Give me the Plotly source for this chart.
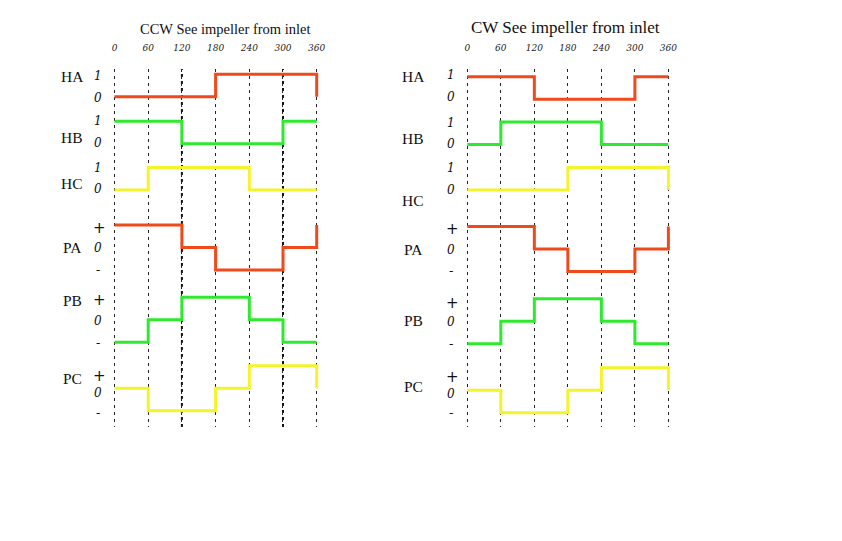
import plotly.graph_objects as go

# ---------------- data ----------------
ANGLES = [0, 60, 120, 180, 240, 300, 360]
TICK_TEXT = ["0", "60", "120", "180", "240", "300", "360"]
SIGNALS = ["HA", "HB", "HC", "PA", "PB", "PC"]

# level per 60-degree sector (0..60, 60..120, ..., 300..360)
CCW_HA = [0, 0, 0, 1, 1, 1]
CCW_HB = [1, 1, 0, 0, 0, 1]
CCW_HC = [0, 1, 1, 1, 0, 0]
CCW_PA = [1, 1, 0, -1, -1, 0]
CCW_PB = [-1, 0, 1, 1, 0, -1]
CCW_PC = [0, -1, -1, 0, 1, 1]

CW_HA = [1, 1, 0, 0, 0, 1]
CW_HB = [0, 1, 1, 1, 0, 0]
CW_HC = [0, 0, 0, 1, 1, 1]
CW_PA = [1, 1, 0, -1, -1, 0]
CW_PB = [-1, 0, 1, 1, 0, -1]
CW_PC = [0, -1, -1, 0, 1, 1]

HALL_LEVEL_TEXT = ["1", "0"]
PHASE_LEVEL_TEXT = ["+", "0", "-"]

TITLE_CCW = "CCW See impeller from inlet"
TITLE_CW = "CW See impeller from inlet"

BOLD_GRID_CCW = [120, 300]

# ---------------- styling / layout ----------------
W, H = 842, 541
COLORS = {"HA": "#F04A1C", "HB": "#2EEA2E", "HC": "#F4F42C",
          "PA": "#F04A1C", "PB": "#2EEA2E", "PC": "#F4F42C"}
STEP = 22.5
ROW_ZERO_L = [96.7, 143.7, 190, 247.5, 319.7, 388.3]
ROW_ZERO_R = [99.3, 144.4, 190, 249, 321.3, 390.3]

PLOT_TOP, PLOT_BOT = 69, 427
DASH = "3px,4px"


def xdomain(px0, px360, lo=-20, hi=380):
    s = (px360 - px0) / 360.0
    return [(px0 + lo * s) / W, (px0 + hi * s) / W]


fig = go.Figure()

for a in BOLD_GRID_CCW:
    fig.add_shape(type="line", xref="x", yref="y domain", x0=a, x1=a, y0=0, y1=1,
                  line=dict(color="#111", width=2, dash=DASH), layer="below")

panels = [
    ("x", [CCW_HA, CCW_HB, CCW_HC, CCW_PA, CCW_PB, CCW_PC], ROW_ZERO_L),
    ("x2", [CW_HA, CW_HB, CW_HC, CW_PA, CW_PB, CW_PC], ROW_ZERO_R),
]
for xa, series, zeros in panels:
    for name, vals, z0 in zip(SIGNALS, series, zeros):
        lv = list(vals) + [vals[-1], vals[0]]
        xs = ANGLES + [ANGLES[-1]]
        ys = [z0 - v * STEP for v in lv]
        fig.add_trace(go.Scatter(x=xs, y=ys, mode="lines", line_shape="hv",
                                 line=dict(color=COLORS[name], width=3),
                                 xaxis=xa, yaxis="y", hoverinfo="skip"))

axis_common = dict(range=[-20, 380], tickmode="array", tickvals=ANGLES,
                   ticktext=TICK_TEXT, side="top", showline=False, zeroline=False,
                   ticks="", showgrid=True, gridcolor="#222", gridwidth=1,
                   griddash=DASH, anchor="y", ticklabelstandoff=15,
                   tickfont=dict(family="DejaVu Serif", size=9, style="italic",
                                 color="#222"))
fig.update_layout(
    width=W, height=H, margin=dict(l=0, r=0, t=0, b=0),
    paper_bgcolor="white", plot_bgcolor="white", showlegend=False,
    xaxis=dict(domain=xdomain(114.5, 316.7), **axis_common),
    xaxis2=dict(domain=xdomain(467.3, 668.4), **axis_common),
    yaxis=dict(range=[PLOT_BOT, PLOT_TOP],
               domain=[1 - PLOT_BOT / H, 1 - PLOT_TOP / H],
               visible=False),
)


def label(text, px, py, **font):
    return dict(text=text, x=px / W, y=1 - py / H, xref="paper", yref="paper",
                xanchor="center", yanchor="middle", showarrow=False, font=font)


ann = []
serif = "Liberation Serif"
ann.append(label(TITLE_CCW, 225, 29, family=serif, size=14.5, color="#111"))
ann.append(label(TITLE_CW, 565, 28, family=serif, size=17, color="#111"))

NAME_Y_L = [76, 137, 183, 247, 300, 378]
NAME_Y_R = [76, 138, 200, 249, 320, 386]
LEVEL_Y_L = [[76, 98], [121, 143], [168, 189], [228, 248, 269], [300, 321, 342], [376, 393, 412]]
LEVEL_Y_R = [[75, 97], [123, 144], [168, 190], [229, 250, 270], [303, 322, 343], [377, 394, 412]]

for name_x, lvl_x, name_ys, lvl_ys in [(72, 98, NAME_Y_L, LEVEL_Y_L), (413, 451, NAME_Y_R, LEVEL_Y_R)]:
    for i, name in enumerate(SIGNALS):
        ann.append(label(name, name_x, name_ys[i], family=serif, size=15.5, color="#111"))
        texts = HALL_LEVEL_TEXT if name.startswith("H") else PHASE_LEVEL_TEXT
        for t, yy in zip(texts, lvl_ys[i]):
            if t in ("0", "1"):
                ann.append(label(t, lvl_x, yy, family="DejaVu Serif", size=12,
                                 style="italic", color="#111"))
            elif t == "+":
                ann.append(label(t, lvl_x + 1, yy, family="DejaVu Sans", size=15,
                                 color="#111"))
            else:
                ann.append(label(t, lvl_x, yy, family=serif, size=13, color="#111"))
fig.update_layout(annotations=ann)

fig.write_html("out.html")
